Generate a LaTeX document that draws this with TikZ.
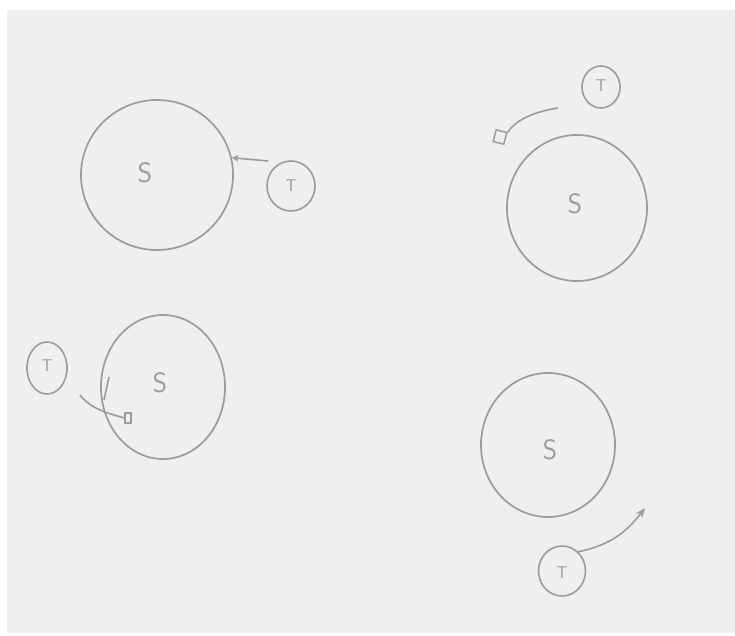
\documentclass[tikz,border=0pt]{standalone}
\usetikzlibrary{shapes}
\usetikzlibrary{arrows.meta}
\usetikzlibrary{positioning}

\definecolor{pencil}{RGB}{155,155,158}
\definecolor{paper}{RGB}{239,238,241}

\tikzset{
    sun/.style={ellipse, draw=pencil, line width=1.7pt, inner sep=0pt},
    moon/.style={ellipse, draw=pencil, line width=1.6pt, inner sep=0pt},
    bigletter/.style={text=pencil, inner sep=0pt, font=\sffamily\fontsize{28}{28}\selectfont},
    smallletter/.style={text=pencil, inner sep=0pt, font=\sffamily\fontsize{17}{17}\selectfont},
    stopbox/.style={rectangle, draw=pencil, line width=1.5pt, inner sep=0pt}
}

\begin{document}
\begin{tikzpicture}[x=1pt, y=-1pt, line width=1.6pt, draw=pencil]

    % Sheet
    \fill [white] (0,0) rectangle (735,636);
    \fill [paper] (7,10) rectangle (735,633);
    \useasboundingbox (0,0) rectangle (735,636);

    % ---- top left ----
    \node [sun, minimum width=152pt, minimum height=150pt] (S1) at (157,175) {};
    \node [bigletter] (s1) at (145,173) {S};
    \node [moon, minimum width=48pt, minimum height=50pt] (T1) at (291,186) {};
    \node [smallletter] (t1) at (291,186) {T};
    \coordinate (a1) at (268,161);
    \draw [-{Triangle[open, length=6pt, width=6pt]}] (a1) -- (S1.13);

    % ---- top right ----
    \node [sun, minimum width=140pt, minimum height=146pt] (S2) at (577,208) {};
    \node [bigletter] (s2) at (575,204) {S};
    \node [moon, minimum width=38pt, minimum height=42pt] (T2) at (601,87) {};
    \node [smallletter] (t2) at (601,86) {T};
    \node [stopbox, minimum width=11pt, minimum height=12pt, rotate=-15] (q2) at (500,137) {};
    \coordinate (c2) at (558,108);
    \draw (c2) .. controls (532,112) and (515,121) .. (q2.north east);

    % ---- bottom left ----
    \node [sun, minimum width=124pt, minimum height=144pt] (S3) at (163,387) {};
    \node [bigletter] (s3) at (160,383) {S};
    \node [moon, minimum width=40pt, minimum height=52pt] (T3) at (47,368) {};
    \node [smallletter] (t3) at (47,366) {T};
    \node [stopbox, minimum width=6pt, minimum height=10pt] (q3) at (128,418) {};
    \coordinate (c3) at (80,395);
    \draw (c3) .. controls (92,410) and (108,413) .. (q3.west);
    \coordinate (k3) at (109,377);
    \coordinate (m3) at (104,400);
    \draw (k3) -- (m3);

    % ---- bottom right ----
    \node [sun, minimum width=134pt, minimum height=144pt] (S4) at (548,445) {};
    \node [bigletter] (s4) at (550,450) {S};
    \node [moon, minimum width=47pt, minimum height=50pt] (T4) at (562,571) {};
    \node [smallletter] (t4) at (562,573) {T};
    \coordinate (e4) at (645,508);
    \draw [-{Stealth[length=10pt, width=8pt]}] (T4.50) .. controls (612,545) and (628,530) .. (e4);

\end{tikzpicture}
\end{document}
